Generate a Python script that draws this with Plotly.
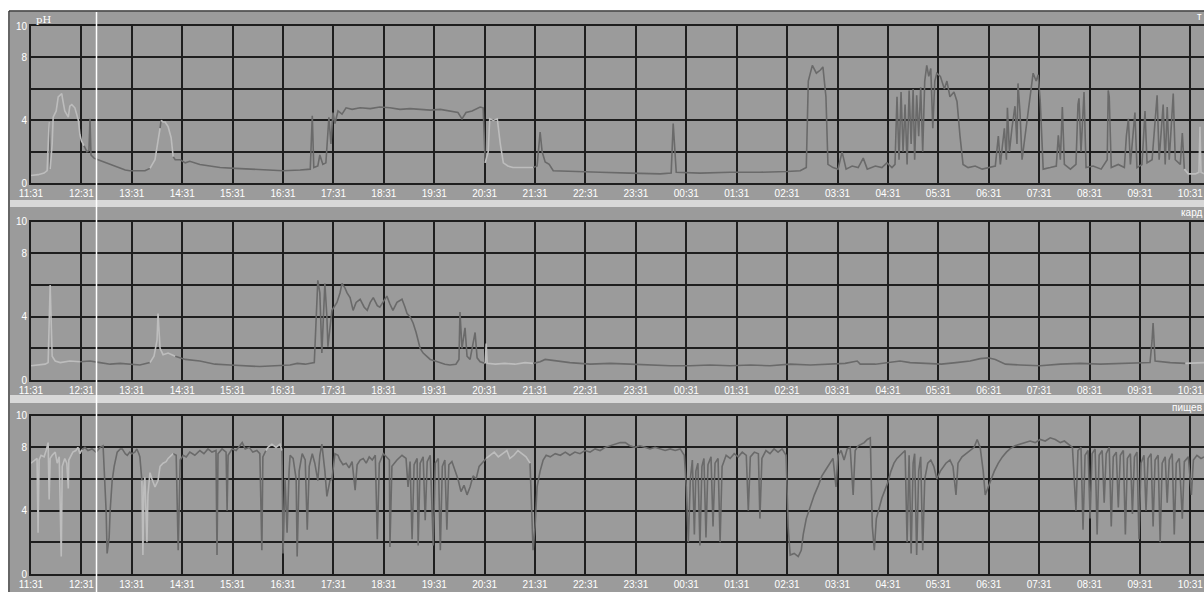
import plotly.graph_objects as go

# ---------------- data ----------------
hour_labels = ["11:31", "12:31", "13:31", "14:31", "15:31", "16:31", "17:31", "18:31",
               "19:31", "20:31", "21:31", "22:31", "23:31", "00:31", "01:31", "02:31",
               "03:31", "04:31", "05:31", "06:31", "07:31", "08:31", "09:31", "10:31"]
panel_names = ["т", "кард", "пищев"]

# panel 1 : stomach pH  (time in hours after 11:31)
T1 = [0.00, 0.14, 0.26, 0.32, 0.36, 0.38, 0.42, 0.44, 0.50, 0.54, 0.61, 0.63, 0.67, 0.74, 0.77,
      0.81, 0.87, 0.94, 0.97, 1.00, 1.05, 1.11, 1.15, 1.17, 1.19, 1.25, 1.33, 1.41, 1.49, 1.57,
      1.67, 1.77, 1.87, 1.96, 2.12, 2.26, 2.36, 2.46, 2.52, 2.56, 2.58, 2.62, 2.66, 2.72, 2.78,
      2.82, 2.86, 2.96, 3.06, 3.15, 3.35, 3.55, 3.75, 4.05, 4.35, 4.64, 5.00, 5.34, 5.54, 5.58,
      5.61, 5.69, 5.73, 5.79, 5.85, 5.91, 5.95, 5.99, 6.03, 6.09, 6.17, 6.25, 6.37, 6.53, 6.73,
      6.92, 7.12, 7.32, 7.52, 7.72, 7.92, 8.12, 8.31, 8.47, 8.55, 8.63, 8.75, 8.91, 8.97, 9.01,
      9.07, 9.10, 9.17, 9.25, 9.31, 9.37, 9.46, 9.56, 9.70, 9.96, 10.04, 10.10, 10.14, 10.20, 10.28,
      10.36, 10.69, 11.29, 11.88, 12.48, 12.70, 12.74, 12.80, 13.27, 13.87, 14.46, 15.00, 15.26, 15.38, 15.42,
      15.50, 15.58, 15.66, 15.71, 15.77, 15.81, 15.91, 16.01, 16.09, 16.17, 16.29, 16.41, 16.51, 16.59, 16.75,
      16.88, 16.98, 17.08, 17.14, 17.18, 17.22, 17.26, 17.30, 17.34, 17.38, 17.42, 17.46, 17.50, 17.53, 17.57,
      17.61, 17.65, 17.69, 17.73, 17.77, 17.81, 17.85, 17.89, 17.93, 17.97, 18.04, 18.12, 18.17, 18.23, 18.31,
      18.37, 18.43, 18.49, 18.59, 18.73, 18.87, 18.99, 19.13, 19.19, 19.23, 19.31, 19.35, 19.37, 19.41, 19.46,
      19.52, 19.56, 19.58, 19.62, 19.66, 19.74, 19.80, 19.88, 19.94, 19.98, 20.02, 20.08, 20.22, 20.34, 20.38,
      20.42, 20.46, 20.50, 20.62, 20.73, 20.77, 20.79, 20.83, 20.89, 20.93, 21.07, 21.23, 21.35, 21.37, 21.39,
      21.43, 21.57, 21.69, 21.73, 21.77, 21.81, 21.90, 21.94, 22.04, 22.10, 22.14, 22.24, 22.34, 22.38, 22.46,
      22.50, 22.54, 22.58, 22.66, 22.70, 22.80, 22.84, 22.88, 22.96, 23.10, 23.17, 23.19, 23.21, 23.27]
V1 = [0.5, 0.55, 0.65, 0.8, 3.9, 0.9, 2.5, 4.2, 4.6, 5.5, 5.7, 5.3, 4.6, 4.2, 4.9,
      5.0, 4.8, 4.0, 3.1, 2.7, 2.4, 2.0, 2.1, 4.1, 1.8, 1.6, 1.5, 1.4, 1.3, 1.2,
      1.1, 1.0, 0.85, 0.8, 0.8, 0.8, 0.95, 1.5, 2.7, 3.5, 4.0, 3.9, 3.9, 3.6, 2.9,
      1.7, 1.5, 1.5, 1.3, 1.4, 1.2, 1.1, 1.0, 0.95, 0.9, 0.85, 0.8, 0.85, 0.9, 4.3,
      1.0, 1.1, 1.8, 1.2, 1.3, 4.2, 2.5, 4.5, 3.8, 4.6, 4.4, 4.8, 4.7, 4.8, 4.75,
      4.85, 4.8, 4.7, 4.75, 4.7, 4.65, 4.7, 4.6, 4.5, 4.1, 4.5, 4.6, 4.85, 4.8, 1.3,
      2.0, 4.1, 4.0, 4.1, 2.5, 1.3, 1.1, 1.0, 1.0, 1.0, 1.1, 3.25, 2.0, 1.35, 1.2,
      0.8, 0.75, 0.7, 0.65, 0.6, 0.65, 3.8, 0.7, 0.65, 0.7, 0.7, 0.75, 0.8, 1.0, 6.5,
      7.5, 7.0, 7.2, 7.4, 5.5, 1.2, 1.0, 0.9, 2.0, 0.9, 1.1, 1.0, 1.6, 0.9, 1.1,
      1.0, 1.3, 1.0, 1.2, 5.5, 1.5, 5.8, 2.0, 5.0, 1.2, 5.9, 2.5, 6.0, 1.5, 5.6,
      3.0, 6.1, 2.0, 6.5, 7.5, 6.8, 7.3, 3.5, 6.5, 7.0, 6.8, 6.0, 6.5, 5.5, 5.8,
      5.2, 3.0, 1.2, 1.0, 1.1, 0.9, 1.0, 1.1, 3.0, 1.2, 3.5, 1.5, 4.8, 2.0, 3.5,
      4.9, 2.5, 6.35, 4.5, 1.5, 3.5, 5.0, 7.0, 6.5, 6.9, 5.3, 0.9, 1.0, 1.1, 3.05,
      1.5, 4.85, 1.2, 0.9, 1.2, 5.0, 5.4, 2.0, 5.8, 1.0, 1.1, 0.9, 1.5, 5.9, 5.5,
      1.0, 1.2, 1.0, 3.0, 4.1, 1.2, 4.5, 1.0, 1.2, 4.6, 1.3, 1.5, 5.6, 1.5, 5.0,
      1.2, 4.85, 1.5, 5.7, 1.5, 1.2, 3.2, 0.9, 0.6, 0.6, 0.7, 3.6, 0.7, 0.6]
L1 = [(0.0, 0.34), (0.39, 1.05), (2.33, 2.57), (2.60, 2.84), (9.0, 10.0), (22.92, 24.0)]

# panel 2 : cardia pH
T2 = [0.00, 0.14, 0.28, 0.34, 0.38, 0.42, 0.48, 0.58, 0.77, 0.97, 1.17, 1.37, 1.57, 1.77, 1.96,
      2.16, 2.36, 2.44, 2.50, 2.52, 2.56, 2.62, 2.72, 2.86, 3.06, 3.35, 3.65, 3.95, 4.25, 4.54,
      4.84, 5.14, 5.28, 5.44, 5.62, 5.65, 5.69, 5.73, 5.77, 5.83, 5.87, 5.89, 5.93, 5.97, 6.07,
      6.13, 6.17, 6.23, 6.27, 6.33, 6.39, 6.45, 6.53, 6.61, 6.67, 6.73, 6.79, 6.87, 6.92, 7.00,
      7.06, 7.12, 7.18, 7.26, 7.36, 7.42, 7.46, 7.52, 7.58, 7.64, 7.68, 7.72, 7.78, 7.86, 7.92,
      8.02, 8.12, 8.21, 8.31, 8.43, 8.49, 8.51, 8.55, 8.61, 8.65, 8.71, 8.81, 8.85, 8.91, 9.01,
      9.03, 9.05, 9.21, 9.40, 9.60, 9.80, 9.96, 10.10, 10.20, 10.40, 10.69, 11.09, 11.49, 11.88, 12.28,
      12.68, 13.08, 13.47, 13.87, 14.27, 14.66, 15.06, 15.46, 15.85, 16.15, 16.39, 16.45, 16.75, 17.04, 17.24,
      17.44, 17.74, 18.06, 18.35, 18.63, 18.83, 18.99, 19.13, 19.33, 19.62, 20.02, 20.42, 20.81, 21.21, 21.61,
      22.00, 22.20, 22.24, 22.26, 22.30, 22.60, 22.90, 23.27]
V2 = [0.9, 0.95, 1.0, 1.1, 6.0, 1.5, 1.2, 1.1, 1.2, 1.15, 1.2, 1.1, 1.0, 1.05, 1.0,
      0.95, 1.1, 1.5, 2.5, 4.2, 2.0, 1.6, 1.7, 1.5, 1.3, 1.2, 1.0, 0.95, 0.9, 0.85,
      0.9, 0.95, 1.05, 1.0, 1.1, 3.0, 6.3, 5.5, 1.7, 6.1, 4.0, 2.1, 3.5, 4.4, 4.9,
      5.5, 6.1, 5.8, 5.5, 5.2, 4.4, 4.9, 5.1, 4.6, 4.4, 4.9, 5.2, 4.7, 4.6, 5.0,
      5.3, 4.8, 4.4, 4.9, 5.1, 4.6, 4.2, 4.0, 3.6, 3.0, 2.5, 2.0, 1.7, 1.5, 1.3,
      1.2, 1.1, 1.0, 0.95, 1.0, 1.3, 4.3, 2.0, 3.3, 1.5, 1.3, 3.0, 1.4, 1.15, 1.05,
      2.3, 1.05, 1.0, 1.05, 1.0, 1.1, 1.05, 1.15, 1.3, 1.2, 1.1, 1.0, 1.05, 1.0, 0.95,
      0.9, 0.9, 0.95, 0.9, 0.95, 0.9, 1.0, 0.95, 1.0, 1.05, 1.2, 1.0, 1.0, 1.1, 1.2,
      1.1, 1.05, 1.0, 1.1, 1.2, 1.35, 1.4, 1.3, 1.0, 0.95, 0.9, 1.0, 1.05, 1.0, 1.05,
      1.1, 1.1, 2.5, 3.6, 1.2, 1.1, 1.05, 1.1]
L2 = [(0.0, 1.0), (2.3, 2.85), (9.0, 10.0), (22.92, 24.0)]

# panel 3 : oesophagus pH
T3 = [0.00, 0.04, 0.08, 0.12, 0.14, 0.16, 0.20, 0.26, 0.30, 0.34, 0.36, 0.38, 0.42, 0.48, 0.52,
      0.56, 0.60, 0.62, 0.67, 0.71, 0.74, 0.75, 0.83, 0.89, 0.93, 0.97, 1.01, 1.07, 1.13, 1.21,
      1.29, 1.37, 1.43, 1.47, 1.49, 1.51, 1.53, 1.55, 1.57, 1.61, 1.65, 1.71, 1.77, 1.81, 1.87,
      1.91, 1.96, 2.00, 2.06, 2.10, 2.14, 2.16, 2.20, 2.22, 2.24, 2.26, 2.28, 2.30, 2.32, 2.36,
      2.40, 2.46, 2.52, 2.56, 2.62, 2.68, 2.72, 2.78, 2.82, 2.88, 2.92, 2.94, 2.96, 3.02, 3.08,
      3.15, 3.25, 3.35, 3.43, 3.51, 3.59, 3.67, 3.69, 3.71, 3.79, 3.87, 3.89, 3.91, 3.99, 4.07,
      4.15, 4.19, 4.25, 4.33, 4.40, 4.48, 4.54, 4.58, 4.60, 4.66, 4.70, 4.78, 4.86, 4.94, 4.98,
      5.00, 5.04, 5.08, 5.12, 5.14, 5.20, 5.26, 5.28, 5.32, 5.38, 5.44, 5.48, 5.52, 5.58, 5.63,
      5.69, 5.73, 5.77, 5.83, 5.87, 5.93, 5.97, 6.03, 6.09, 6.13, 6.19, 6.25, 6.31, 6.37, 6.43,
      6.47, 6.53, 6.59, 6.65, 6.71, 6.77, 6.83, 6.87, 6.91, 6.99, 7.05, 7.11, 7.12, 7.16, 7.26,
      7.36, 7.44, 7.48, 7.52, 7.56, 7.60, 7.66, 7.68, 7.72, 7.78, 7.82, 7.86, 7.92, 7.98, 8.02,
      8.08, 8.12, 8.16, 8.21, 8.25, 8.29, 8.35, 8.41, 8.47, 8.53, 8.59, 8.65, 8.71, 8.77, 8.83,
      8.89, 8.95, 9.03, 9.11, 9.19, 9.27, 9.35, 9.44, 9.50, 9.58, 9.66, 9.74, 9.82, 9.90, 9.94,
      9.96, 10.00, 10.04, 10.10, 10.16, 10.22, 10.30, 10.40, 10.50, 10.60, 10.69, 10.79, 10.89, 10.99, 11.09,
      11.19, 11.29, 11.39, 11.49, 11.59, 11.69, 11.79, 11.88, 11.98, 12.08, 12.18, 12.28, 12.38, 12.48, 12.58,
      12.68, 12.78, 12.88, 12.96, 13.00, 13.04, 13.08, 13.12, 13.16, 13.19, 13.23, 13.27, 13.31, 13.35, 13.39,
      13.43, 13.49, 13.53, 13.57, 13.63, 13.67, 13.71, 13.79, 13.87, 13.95, 14.03, 14.11, 14.19, 14.23, 14.27,
      14.35, 14.43, 14.46, 14.50, 14.58, 14.66, 14.74, 14.82, 14.90, 14.98, 15.02, 15.06, 15.14, 15.22, 15.28,
      15.32, 15.38, 15.46, 15.54, 15.62, 15.69, 15.77, 15.85, 15.91, 15.97, 16.01, 16.07, 16.13, 16.19, 16.25,
      16.31, 16.35, 16.41, 16.47, 16.53, 16.59, 16.65, 16.69, 16.73, 16.77, 16.83, 16.88, 16.94, 17.00, 17.06,
      17.12, 17.18, 17.24, 17.30, 17.34, 17.38, 17.42, 17.46, 17.50, 17.53, 17.57, 17.61, 17.65, 17.69, 17.73,
      17.79, 17.85, 17.91, 17.97, 18.04, 18.10, 18.15, 18.23, 18.29, 18.35, 18.39, 18.47, 18.55, 18.63, 18.71,
      18.77, 18.83, 18.89, 18.93, 18.99, 19.05, 19.11, 19.19, 19.27, 19.35, 19.42, 19.52, 19.62, 19.72, 19.82,
      19.92, 20.02, 20.12, 20.22, 20.32, 20.42, 20.50, 20.58, 20.66, 20.73, 20.77, 20.83, 20.87, 20.91, 20.97,
      21.01, 21.05, 21.11, 21.15, 21.19, 21.25, 21.29, 21.33, 21.39, 21.43, 21.47, 21.53, 21.57, 21.61, 21.67,
      21.71, 21.75, 21.81, 21.85, 21.89, 21.94, 21.98, 22.02, 22.08, 22.12, 22.16, 22.22, 22.26, 22.30, 22.36,
      22.40, 22.44, 22.50, 22.54, 22.58, 22.64, 22.68, 22.72, 22.78, 22.84, 22.88, 22.96, 23.02, 23.06, 23.13,
      23.21, 23.27]
V3 = [7.0, 7.1, 7.2, 7.3, 2.6, 7.2, 7.5, 7.4, 7.8, 8.3, 4.7, 7.3, 7.5, 7.7, 7.0,
      7.4, 1.1, 6.8, 7.3, 7.0, 5.4, 7.2, 7.7, 7.8, 8.0, 7.6, 7.85, 8.0, 7.8, 7.9,
      7.7, 8.0, 8.1, 5.5, 4.0, 1.3, 2.0, 2.3, 4.0, 5.9, 6.8, 7.7, 7.9, 7.9, 7.6,
      7.5, 7.7, 7.6, 7.7, 7.9, 7.6, 7.4, 5.9, 1.2, 5.5, 6.1, 4.0, 2.0, 5.0, 6.4,
      6.0, 5.5, 5.9, 6.8, 7.0, 7.1, 7.3, 7.5, 7.6, 7.5, 1.5, 6.0, 7.2, 7.5, 7.4,
      7.7, 7.5, 7.8, 7.6, 7.9, 7.7, 7.8, 1.2, 7.6, 7.9, 7.7, 4.0, 7.5, 7.9, 7.8,
      8.1, 8.3, 7.9, 8.0, 7.7, 7.8, 7.6, 1.5, 7.4, 7.8, 8.0, 8.2, 8.0, 8.2, 7.8,
      1.3, 6.0, 2.6, 6.5, 7.5, 7.3, 6.0, 1.1, 6.5, 7.6, 7.2, 2.8, 6.8, 7.6, 7.0,
      5.9, 7.5, 8.2, 6.5, 4.9, 5.9, 6.0, 7.6, 7.5, 7.2, 6.9, 7.0, 6.7, 7.1, 5.3,
      6.9, 7.2, 7.3, 7.0, 7.4, 7.2, 7.5, 2.2, 7.0, 7.6, 7.4, 7.2, 1.7, 6.8, 7.2,
      7.5, 7.3, 5.5, 7.1, 2.2, 6.9, 7.3, 1.8, 7.0, 7.4, 3.4, 7.1, 7.5, 1.8, 7.0,
      7.3, 1.5, 6.8, 7.2, 2.8, 6.9, 7.1, 6.5, 6.0, 5.2, 5.6, 5.0, 5.5, 6.2, 6.0,
      6.8, 7.0, 7.3, 7.5, 7.7, 7.4, 7.6, 7.8, 7.3, 7.5, 7.8, 7.6, 7.4, 7.0, 4.0,
      1.5, 3.0, 5.5, 6.5, 7.2, 7.5, 7.4, 7.6, 7.5, 7.7, 7.5, 7.7, 7.6, 7.8, 7.7,
      7.9, 7.8, 8.0, 8.1, 8.2, 8.3, 8.3, 8.1, 8.0, 8.1, 8.0, 7.9, 8.0, 7.9, 7.8,
      7.9, 7.8, 7.9, 7.5, 5.5, 2.0, 6.0, 7.2, 2.5, 6.5, 7.0, 1.8, 6.8, 7.3, 2.3,
      6.9, 7.4, 3.0, 7.0, 7.3, 2.0, 6.8, 7.5, 7.3, 7.6, 7.4, 7.7, 7.5, 4.0, 7.4,
      7.7, 7.6, 3.5, 7.3, 7.8, 7.6, 7.9, 7.7, 7.9, 7.5, 3.0, 1.2, 1.3, 1.1, 1.5,
      2.5, 3.5, 4.3, 5.0, 5.6, 6.2, 6.6, 7.0, 7.3, 5.5, 7.5, 7.8, 7.2, 7.9, 8.0,
      5.0, 7.8, 8.1, 8.2, 8.3, 8.5, 8.6, 3.0, 1.5, 3.5, 4.3, 4.8, 5.3, 5.8, 6.5,
      7.0, 7.3, 7.5, 7.7, 7.8, 2.0, 7.5, 1.3, 7.0, 7.6, 1.2, 6.5, 7.4, 1.5, 6.0,
      7.0, 7.2, 6.8, 6.0, 6.5, 6.8, 7.0, 7.2, 6.8, 5.0, 7.0, 7.4, 7.6, 7.8, 8.0,
      8.5, 8.0, 6.5, 5.0, 5.5, 6.0, 6.5, 7.0, 7.4, 7.7, 7.9, 8.1, 8.2, 8.3, 8.4,
      8.3, 8.5, 8.4, 8.6, 8.5, 8.3, 8.4, 8.2, 8.0, 4.0, 7.8, 8.0, 2.8, 7.5, 7.8,
      3.5, 7.6, 7.9, 2.5, 7.5, 7.8, 4.5, 7.6, 8.0, 3.0, 7.4, 7.7, 4.2, 7.5, 7.8,
      2.5, 7.3, 7.6, 3.8, 7.4, 7.7, 2.2, 7.0, 7.5, 4.0, 7.3, 7.6, 3.0, 7.2, 7.5,
      2.0, 7.0, 7.4, 4.5, 7.2, 7.6, 2.5, 7.0, 7.3, 3.5, 7.1, 7.4, 5.0, 7.2, 7.5,
      7.3, 7.4]
L3 = [(0.0, 1.0), (2.19, 2.83), (4.67, 4.97), (9.0, 9.92)]

# ---------------- styling constants ----------------
BG = "#9b9b9b"
SEP = "#d8d8d8"
GRID = "#1e1e1e"
DARK = "#6a6a6a"
LIGHT = "#bdbdbd"
W, H = 1204, 592
ML, MT, MB = 31, 26, 18
PW, PH = W - ML, H - MT - MB
XMAX = 23.27


def py(p):  # pixel row -> paper y
    return (H - MB - p) / PH


def px(p):  # pixel column -> paper x
    return (p - ML) / PW


def split_runs(t, v, light):
    def is_light(x):
        return any(a <= x < b for a, b in light)
    cls = [is_light((t[i] + t[i + 1]) / 2) for i in range(len(t) - 1)]
    out = {True: ([], []), False: ([], [])}
    i = 0
    n = len(t)
    while i < n - 1:
        c = cls[i]
        j = i
        while j < n - 1 and cls[j] == c:
            j += 1
        out[c][0].extend(t[i:j + 1] + [None])
        out[c][1].extend(v[i:j + 1] + [None])
        i = j
    return out


fig = go.Figure()
panels = [(T1, V1, L1), (T2, V2, L2), (T3, V3, L3)]
for k, (t, v, light) in enumerate(panels):
    runs = split_runs(t, v, light)
    ax = "" if k == 0 else str(k + 1)
    for is_l, col in ((False, DARK), (True, LIGHT)):
        xs, ys = runs[is_l]
        fig.add_trace(go.Scatter(x=xs, y=ys, mode="lines", xaxis="x" + ax, yaxis="y" + ax,
                                 line=dict(color=col, width=1.6), showlegend=False,
                                 connectgaps=False, hoverinfo="skip"))

domains = [(py(183.3), 1.0), (py(380), py(221.7)), (0.0, py(415.7))]
tickfont = dict(family="Liberation Sans, Arial, sans-serif", size=10, color="white")
layout = dict(width=W, height=H, margin=dict(l=ML, r=0, t=MT, b=MB, pad=0, autoexpand=False),
              paper_bgcolor="white", plot_bgcolor=BG, showlegend=False)
for k in range(3):
    ax = "" if k == 0 else str(k + 1)
    layout["xaxis" + ax] = dict(domain=[0, 1], range=[0, XMAX], anchor="y" + ax,
                                tickvals=list(range(len(hour_labels))), ticktext=hour_labels,
                                showgrid=True, gridcolor=GRID, gridwidth=2, zeroline=False,
                                showline=True, mirror=True, linecolor=GRID, linewidth=2, ticks="",
                                tickfont=tickfont, fixedrange=True, automargin=False)
    layout["yaxis" + ax] = dict(domain=list(domains[k]), range=[0, 10], anchor="x" + ax,
                                tickvals=[0, 2, 4, 6, 8, 10], ticktext=["0", "", "4", "", "8", "10"],
                                showgrid=True, gridcolor=GRID, gridwidth=2, zeroline=False,
                                showline=True, linecolor=GRID, linewidth=2, ticks="",
                                tickfont=tickfont, fixedrange=True, automargin=False)
fig.update_layout(**layout)

shapes = [
    dict(type="rect", xref="paper", yref="paper", x0=px(10), x1=px(W + 2), y0=py(H + 2), y1=py(11.5),
         fillcolor=BG, line=dict(width=0), layer="below"),
    dict(type="rect", xref="paper", yref="paper", x0=px(10), x1=px(W + 2), y0=py(207), y1=py(200),
         fillcolor=SEP, line=dict(width=0), layer="below"),
    dict(type="rect", xref="paper", yref="paper", x0=px(10), x1=px(W + 2), y0=py(403), y1=py(395),
         fillcolor=SEP, line=dict(width=0), layer="below"),
    dict(type="line", xref="paper", yref="paper", x0=px(9), x1=px(9), y0=py(H + 2), y1=py(11),
         line=dict(color="#333333", width=1.5)),
    dict(type="line", xref="paper", yref="paper", x0=px(9), x1=px(W + 2), y0=py(11), y1=py(11),
         line=dict(color="#333333", width=1.5)),
    dict(type="line", xref="paper", yref="paper", x0=px(96.5), x1=px(96.5), y0=py(H + 2), y1=py(12),
         line=dict(color="white", width=1.5), layer="above"),
]
fig.update_layout(shapes=shapes)

ann_font = dict(family="Liberation Sans, Arial, sans-serif", size=10, color="white")
anns = [dict(text="pH", x=px(34), y=py(19), xref="paper", yref="paper", xanchor="left",
             yanchor="middle", showarrow=False, font=dict(family="DejaVu Serif, serif", size=10, color="white"))]
for name, row in zip(panel_names, [17, 212, 407]):
    anns.append(dict(text=name, x=1.0, y=py(row), xref="paper", yref="paper", xanchor="right",
                     yanchor="middle", showarrow=False, font=ann_font))
fig.update_layout(annotations=anns)

fig.write_html("out.html", config={"displayModeBar": False},
               post_script="document.body.style.margin='0px';document.body.style.overflow='hidden';")
